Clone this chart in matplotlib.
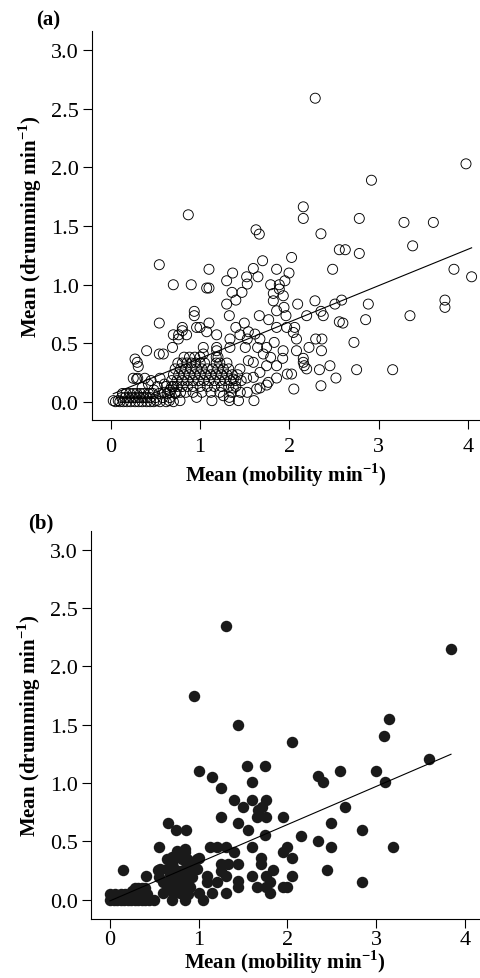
import matplotlib
matplotlib.use("Agg")
import matplotlib.pyplot as plt
import numpy as np

plt.rcParams["font.family"] = ["Liberation Serif", "DejaVu Serif"]
plt.rcParams["mathtext.fontset"] = "custom"
plt.rcParams["mathtext.rm"] = "Liberation Serif"
plt.rcParams["mathtext.bf"] = "Liberation Serif:bold"

# ---- panel (a): open circles ----
a_scatter_x = [2.29, 3.98, 2.92, 0.867, 2.156, 2.156, 2.784, 3.285, 3.614, 1.626,
               1.663, 2.354, 3.382, 2.56, 2.627, 2.784, 2.025, 1.70, 0.542, 1.099,
               1.596, 1.857, 2.485, 3.845, 4.043, 1.364, 1.996, 1.521, 1.528, 1.648,
               1.297, 1.95, 0.699, 0.90, 1.073, 1.099, 1.79, 1.887, 1.887, 1.932,
               1.357, 1.469, 1.40, 1.82, 1.82, 1.297, 2.093, 2.287, 2.511, 2.586,
               2.885, 3.744, 3.744, 1.857, 1.94, 0.934, 0.934, 1.327, 1.663, 2.194,
               2.354, 2.38, 3.352, 1.962, 1.768, 2.855, 2.56, 2.60, 0.542, 1.099,
               1.495, 0.96, 0.998, 0.80, 0.80, 1.40, 1.97, 1.857, 2.06, 2.044,
               1.073, 1.446, 1.54, 1.614, 0.699, 0.759, 0.848, 1.185, 2.08, 2.295,
               2.365, 1.67, 1.528, 0.755, 1.334, 2.724, 1.83, 0.40, 0.542, 0.587,
               1.185, 1.185, 2.22, 2.08, 2.36, 1.93, 1.506, 1.334, 1.035, 1.745,
               1.644, 0.69, 1.035, 0.27, 0.295, 0.306, 0.288, 1.925, 2.156, 2.156,
               2.167, 2.194, 2.337, 2.455, 2.754, 3.158, 2.522, 2.354, 2.05, 1.977,
               2.025, 1.857, 1.764, 1.603, 1.633, 1.67, 1.745, 1.521, 1.528, 1.43,
               1.327, 1.327, 1.132, 1.26, 1.372, 0.774, 0.654, 0.512, 0.026, 0.082,
               0.96, 1.596, 1.745, 1.446, 1.67, 1.857, 1.596, 1.372, 1.54, 1.79,
               1.708]
a_scatter_y = [2.59, 2.03, 1.89, 1.595, 1.663, 1.564, 1.564, 1.53, 1.53, 1.467,
               1.43, 1.433, 1.33, 1.297, 1.297, 1.265, 1.231, 1.203, 1.169, 1.13,
               1.137, 1.13, 1.13, 1.13, 1.066, 1.098, 1.098, 1.066, 1.004, 1.066,
               1.032, 1.032, 0.998, 0.998, 0.97, 0.97, 0.998, 0.998, 0.961, 0.904,
               0.933, 0.933, 0.867, 0.924, 0.861, 0.833, 0.833, 0.861, 0.833, 0.867,
               0.833, 0.867, 0.805, 0.776, 0.805, 0.771, 0.734, 0.734, 0.734, 0.734,
               0.771, 0.734, 0.734, 0.734, 0.70, 0.70, 0.682, 0.671, 0.671, 0.671,
               0.671, 0.634, 0.634, 0.634, 0.606, 0.634, 0.634, 0.634, 0.634, 0.591,
               0.597, 0.571, 0.597, 0.577, 0.571, 0.571, 0.571, 0.571, 0.535, 0.535,
               0.535, 0.535, 0.535, 0.535, 0.535, 0.506, 0.506, 0.435, 0.407, 0.407,
               0.463, 0.435, 0.463, 0.435, 0.435, 0.435, 0.463, 0.463, 0.463, 0.463,
               0.463, 0.463, 0.407, 0.364, 0.336, 0.30, 0.194, 0.37, 0.37, 0.336,
               0.307, 0.28, 0.273, 0.307, 0.273, 0.273, 0.202, 0.136, 0.108, 0.236,
               0.236, 0.202, 0.165, 0.009, 0.108, 0.117, 0.142, 0.202, 0.08, 0.009,
               0.009, 0.037, 0.009, 0.051, 0.117, 0.009, 0.009, 0.009, 0.009, 0.009,
               0.037, 0.336, 0.307, 0.279, 0.25, 0.307, 0.208, 0.193, 0.35, 0.378,
               0.407]

# dense low-activity band and block (overlapping circles)
a_band_x = [0.05, 0.10, 0.14, 0.18, 0.22, 0.27, 0.31, 0.35, 0.40, 0.44, 0.48, 0.55, 0.62, 0.70,
            0.12, 0.16, 0.20, 0.24, 0.28, 0.32, 0.36, 0.40, 0.44, 0.50, 0.58, 0.66,
            0.13, 0.17, 0.21, 0.25, 0.29, 0.33, 0.37, 0.42, 0.47, 0.54, 0.63, 0.72,
            0.35, 0.42, 0.48, 0.52, 0.30, 0.38, 0.45, 0.55, 0.60, 0.66, 0.70, 0.25]
a_band_y = [0.0, 0.0, 0.0, 0.0, 0.0, 0.0, 0.0, 0.0, 0.0, 0.0, 0.0, 0.0, 0.0, 0.0,
            0.035, 0.035, 0.035, 0.035, 0.035, 0.035, 0.035, 0.035, 0.035, 0.035, 0.035, 0.035,
            0.07, 0.07, 0.07, 0.07, 0.07, 0.07, 0.07, 0.07, 0.07, 0.07, 0.07, 0.07,
            0.12, 0.15, 0.10, 0.13, 0.20, 0.20, 0.18, 0.20, 0.15, 0.10, 0.13, 0.20]

a_block_x = [0.82, 0.88, 0.94, 1.00, 1.18, 1.20,
             0.75, 0.80, 0.85, 0.90, 0.95, 1.00, 1.05, 1.18, 1.22, 1.30,
             0.72, 0.78, 0.84, 0.90, 0.96, 1.02, 1.08, 1.14, 1.20, 1.26, 1.32,
             0.70, 0.76, 0.82, 0.88, 0.94, 1.00, 1.06, 1.12, 1.18, 1.24, 1.30, 1.36, 1.42,
             0.68, 0.74, 0.80, 0.86, 0.92, 0.98, 1.04, 1.10, 1.16, 1.22, 1.28, 1.34, 1.40, 1.46,
             0.62, 0.68, 0.74, 0.80, 0.86, 0.92, 1.00, 1.08, 1.16, 1.24, 1.32, 1.40,
             0.60, 0.66, 0.72, 0.78, 0.84, 0.92, 1.02, 1.12, 1.22, 1.35, 1.45]
a_block_y = [0.38] * 6 + [0.33] * 10 + [0.28] * 11 + [0.23] * 13 + [0.18] * 14 + [0.13] * 12 + [0.08] * 11

fit_a = (0.06, 0.31)  # intercept, slope

# ---- panel (b): filled dots ----
b_scatter_x = [1.303, 3.842, 0.95, 1.446, 3.144, 3.091, 2.047, 0.999, 1.54, 1.75,
               2.59, 2.997, 1.146, 2.347, 2.396, 1.604, 3.099, 3.598, 1.247, 1.40,
               1.604, 1.754, 1.495, 2.648, 1.664, 1.716, 1.653, 1.754, 1.946, 1.247,
               0.657, 1.446, 2.49, 0.744, 0.856, 1.551, 2.843, 1.75, 2.148, 2.347,
               0.556, 1.127, 1.202, 1.303, 1.604, 1.998, 2.49, 3.192, 1.946, 1.40,
               0.849, 2.047, 1.70, 1.70, 1.446, 1.326, 1.247, 0.999, 0.15, 0.545,
               0.402, 1.84, 2.449, 2.843, 2.047, 1.604, 1.754, 1.446, 1.446, 1.303,
               1.146, 1.089, 1.089, 1.202, 1.303, 1.247, 1.946, 1.998, 1.653, 1.754,
               1.803, 1.803, 1.052, 0.999, 0.849, 0.702, 0.601]
b_scatter_y = [2.349, 2.149, 1.749, 1.50, 1.549, 1.40, 1.349, 1.103, 1.149, 1.149,
               1.103, 1.103, 1.054, 1.057, 1.006, 1.006, 1.006, 1.206, 0.954, 0.854,
               0.854, 0.854, 0.797, 0.797, 0.769, 0.791, 0.706, 0.706, 0.706, 0.706,
               0.654, 0.654, 0.654, 0.60, 0.60, 0.60, 0.60, 0.554, 0.549, 0.50,
               0.454, 0.454, 0.454, 0.454, 0.454, 0.454, 0.454, 0.454, 0.406, 0.406,
               0.406, 0.357, 0.357, 0.306, 0.306, 0.306, 0.306, 0.357, 0.254, 0.254,
               0.206, 0.254, 0.254, 0.149, 0.206, 0.206, 0.206, 0.163, 0.106, 0.057,
               0.057, 0.206, 0.149, 0.149, 0.206, 0.249, 0.106, 0.106, 0.106, 0.106,
               0.057, 0.149, 0.0, 0.057, 0.0, 0.0, 0.057]

b_cluster_x = [0.638, 0.695, 0.751, 0.808, 0.864, 0.92, 0.977, 0.638, 0.676, 0.714,
               0.789, 0.845, 0.901, 0.92, 0.845, 0.751, 0.676, 0.751, 0.826, 0.901,
               0.808, 0.714, 0.638, 0.601, 0.883, 0.789, 0.714, 0.751, 0.845, 0.563,
               0.556, 0.695, 0.92, 0.977]
b_cluster_y = [0.349, 0.363, 0.363, 0.349, 0.349, 0.32, 0.349, 0.263, 0.22, 0.277,
               0.249, 0.263, 0.234, 0.191, 0.191, 0.191, 0.149, 0.134, 0.149, 0.106,
               0.091, 0.106, 0.106, 0.149, 0.049, 0.057, 0.057, 0.42, 0.434, 0.263,
               0.191, 0.306, 0.277, 0.263]

b_band_x = [0.0, 0.04, 0.08, 0.12, 0.16, 0.20, 0.24, 0.28, 0.32, 0.36, 0.40, 0.44, 0.50,
            0.0, 0.06, 0.12, 0.17, 0.22, 0.27, 0.30, 0.34, 0.38, 0.42,
            0.28, 0.32, 0.36, 0.40, 0.25, 0.33]
b_band_y = [0.0] * 13 + [0.05] * 10 + [0.1] * 4 + [0.075] * 2

fit_b = (-0.01, 0.327)

xticks = [0, 1, 2, 3, 4]
yticks = [0.0, 0.5, 1.0, 1.5, 2.0, 2.5, 3.0]
xlabel = r"Mean (mobility min$^{\mathbf{-1}}$)"
ylabel = r"Mean (drumming min$^{\mathbf{-1}}$)"

fig = plt.figure(figsize=(4.8, 9.79), dpi=100)
ax_a = fig.add_axes([0.191, 0.570, 0.809, 0.3976])
ax_b = fig.add_axes([0.189, 0.0603, 0.811, 0.3966])


def style(ax, xlim, ylim, xpad, xlabelpad):
    ax.set_xlim(*xlim)
    ax.set_ylim(*ylim)
    for s in ("top", "right"):
        ax.spines[s].set_visible(False)
    for s in ("left", "bottom"):
        ax.spines[s].set_linewidth(0.8)
    ax.set_xticks(xticks)
    ax.set_yticks(yticks)
    ax.set_yticklabels([f"{v:.1f}" for v in yticks])
    ax.tick_params(direction="out", length=6.5, width=0.8, labelsize=16)
    ax.tick_params(axis="x", pad=xpad)
    ax.tick_params(axis="y", pad=3)
    ax.set_xlabel(xlabel, fontsize=15, fontweight="bold", labelpad=xlabelpad)
    ax.set_ylabel(ylabel, fontsize=15, fontweight="bold", labelpad=5)


ax = ax_a
xa = a_scatter_x + a_band_x + a_block_x
ya = a_scatter_y + a_band_y + a_block_y
ax.scatter(xa, ya, s=52, facecolors="none", edgecolors="black", linewidths=0.65, zorder=2)
xr = np.array([min(xa), max(xa)])
ax.plot(xr, fit_a[0] + fit_a[1] * xr, color="black", lw=0.8, zorder=3)
style(ax, (-0.216, 4.137), (-0.156, 3.166), 6, 3)
fig.text(36 / 480, 1 - 20 / 979, "(a)", fontsize=15, fontweight="bold", va="center")

ax = ax_b
xb = b_scatter_x + b_cluster_x + b_band_x
yb = b_scatter_y + b_cluster_y + b_band_y
ax.scatter(xb, yb, s=68, color="#1a1a1a", linewidths=0, zorder=2)
xr = np.array([min(xb), max(xb)])
ax.plot(xr, fit_b[0] + fit_b[1] * xr, color="black", lw=0.8, zorder=3)
style(ax, (-0.217, 4.169), (-0.165, 3.162), 1.5, -1)
fig.text(28 / 480, 1 - 523 / 979, "(b)", fontsize=15, fontweight="bold", va="center")

fig.savefig("out.png", dpi=100)
